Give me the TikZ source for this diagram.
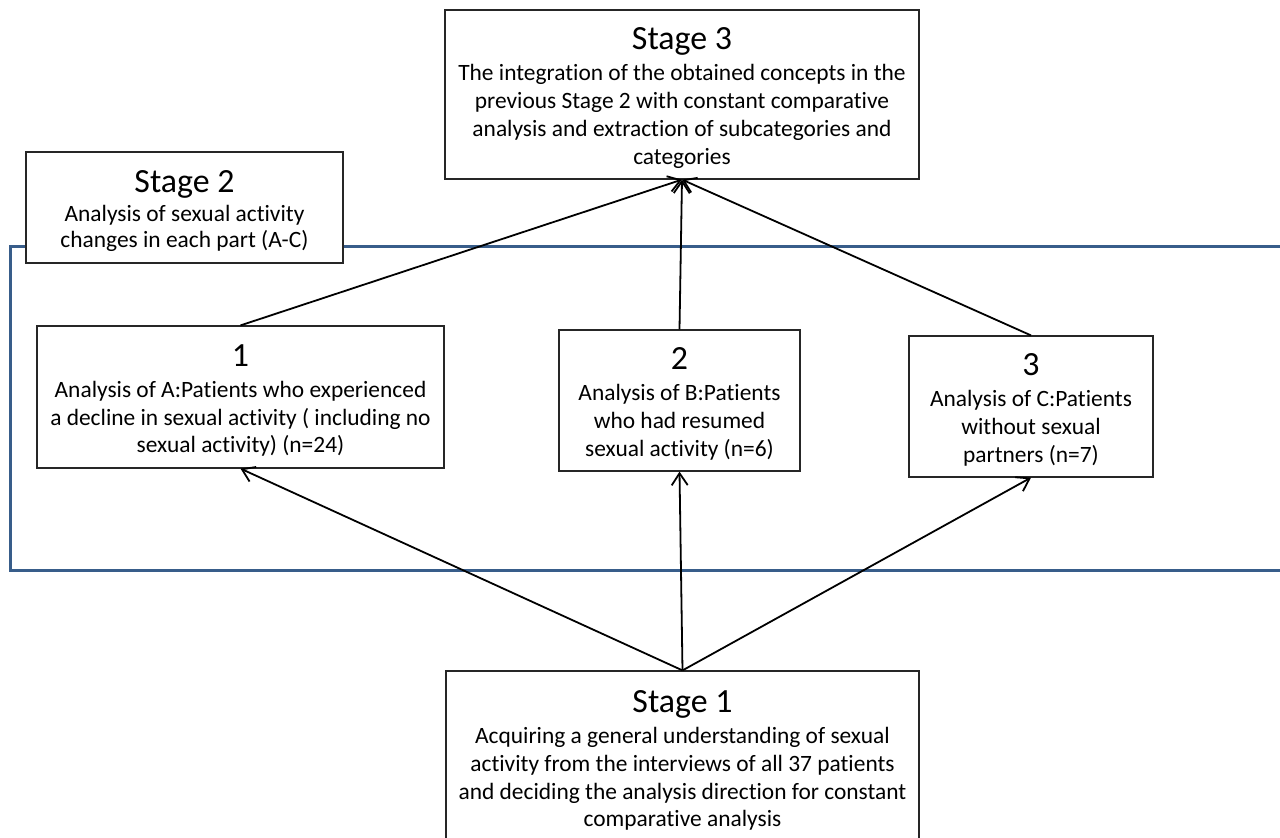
\documentclass[tikz,border=0pt]{standalone}
\usepackage{fontspec}
\setmainfont[Ligatures = NoCommon]{Carlito}
\usetikzlibrary{arrows.meta}

\definecolor{framecol}{RGB}{56,93,138}
\newcommand{\stagetitle}[1]{{\fontsize{34}{36}\selectfont\rule{0pt}{29bp}#1}}

\tikzset{
    stagebox/.style = {draw = black!85, line width = 1.2bp, fill = white, align = center, inner sep = 0pt, font = \fontsize{23.5}{28}\selectfont},
    flow/.style = {line width = 1.8bp, -{Straight Barb[length = 12bp, width = 16bp, line width = 1.8bp]}}
}

\begin{document}
\begin{tikzpicture}[x = 1bp, y = -1bp]
    \clip (0, 0) rectangle (1280, 838);
    \draw[line width = 3bp, framecol] (1290, 246) -| (10, 570) -- (1290, 570);

    \node[stagebox, minimum width = 474bp, minimum height = 169bp] (s3) at (682, 94.5)
        {\stagetitle{Stage 3}\\[3bp] The integration of the obtained concepts in the\\ previous Stage 2 with constant comparative\\ analysis and extraction of subcategories and\\ categories};
    \node[stagebox, minimum width = 317bp, minimum height = 111bp, font = \fontsize{23.5}{26}\selectfont] (s2) at (184.5, 207.5)
        {\stagetitle{Stage 2}\\[3bp] Analysis of sexual activity\\ changes in each part (A-C)};
    \node[stagebox, minimum width = 407bp, minimum height = 142bp] (b1) at (240.5, 397)
        {\stagetitle{1}\\[3bp] Analysis of A:Patients who experienced\\ a decline in sexual activity ( including no\\ sexual activity) (n=24)};
    \node[stagebox, minimum width = 241bp, minimum height = 141bp] (b2) at (679.5, 400.5)
        {\stagetitle{2}\\[3bp] Analysis of B:Patients\\ who had resumed\\ sexual activity (n=6)};
    \node[stagebox, minimum width = 244bp, minimum height = 141bp] (b3) at (1031, 406.5)
        {\stagetitle{3}\\[3bp] Analysis of C:Patients\\ without sexual\\ partners (n=7)};
    \node[stagebox, minimum width = 473bp, minimum height = 172bp] (s1) at (682.5, 757)
        {\stagetitle{Stage 1}\\[3bp] Acquiring a general understanding of sexual\\ activity from the interviews of all 37 patients\\ and deciding the analysis direction for constant\\ comparative analysis};

    \foreach \b in {b1, b2, b3}{
        \draw[flow] (s1.north) -- (\b.south);
        \draw[flow] (\b.north) -- (s3.south);
    }
\end{tikzpicture}
\end{document}
